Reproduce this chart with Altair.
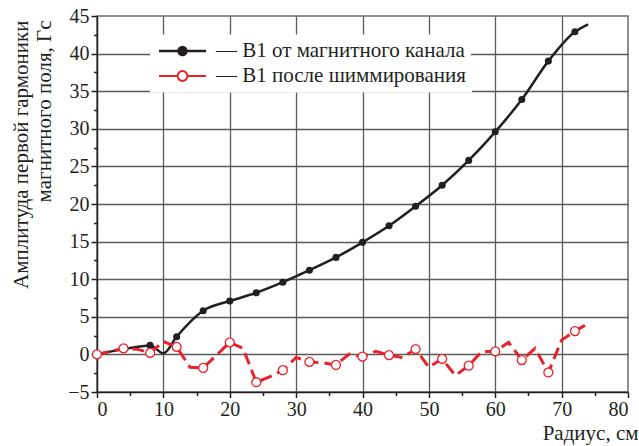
import altair as alt
import pandas as pd

# Radial profile of the first harmonic of the magnetic field
channel_r = [0, 4, 8, 10, 12, 16, 20, 24, 28, 32, 36, 40, 44, 48, 52, 56, 60, 64, 68, 72, 74]
channel_b1 = [0.0, 0.7, 1.2, 0.15, 2.35, 5.8, 7.1, 8.2, 9.6, 11.2, 12.9, 14.9, 17.1,
              19.7, 22.5, 25.8, 29.6, 33.9, 39.0, 42.9, 43.9]

shim_r = [0, 2, 4, 6, 8, 10, 12, 14, 16, 18, 20, 22, 24, 26, 28, 30, 32, 34, 36,
          38, 40, 42, 44, 46, 48, 50, 52, 54, 56, 58, 60, 62, 64, 66, 68, 70, 72, 74]
shim_b1 = [0.0, 0.4, 0.8, 0.7, 0.2, 1.7, 1.0, -1.7, -1.8, -0.1, 1.6, 0.8, -3.7, -3.0,
           -2.1, -0.4, -1.0, -1.1, -1.4, 0.05, -0.3, 0.4, -0.1, -0.4, 0.7, -1.7, -0.6,
           -2.8, -1.5, 0.4, 0.4, 1.6, -0.75, 0.8, -2.4, 1.9, 3.1, 4.1]

# radii at which measured points are marked
marker_r = [0, 4, 8, 12, 16, 20, 24, 28, 32, 36, 40, 44, 48, 52, 56, 60, 64, 68, 72]

name_channel = "— B1 от магнитного канала"
name_shim = "— B1 после шиммирования"

BLACK = "#231f20"
RED = "#e8212b"
FONT = "Liberation Serif"

df_channel = pd.DataFrame({
    "r": channel_r, "b1": channel_b1, "series": name_channel,
    "marker": [r in marker_r for r in channel_r],
})
df_shim = pd.DataFrame({
    "r": shim_r, "b1": shim_b1, "series": name_shim,
    "marker": [r in marker_r for r in shim_r],
})

x_axis = alt.Axis(
    values=[v * 5 for v in range(0, 17)],
    labelExpr="datum.value % 10 === 0 ? datum.label : ''",
    labelOverlap=False,
    tickSize={"condition": {"test": "datum.value % 10 !== 0", "value": 3.5}, "value": 5.5},
    gridOpacity={"condition": {"test": "datum.value % 10 === 0 && datum.value > 0 && datum.value < 80",
                               "value": 1}, "value": 0},
    labelPadding=2,
    titleAlign="right",
    titleAnchor="end",
    titleX=541,
    titleY=47,
    titleBaseline="alphabetic",
)
y_axis = alt.Axis(
    values=[v * 2.5 for v in range(-2, 19)],
    labelExpr="datum.value % 5 === 0 ? datum.label : ''",
    labelOverlap=False,
    tickSize={"condition": {"test": "datum.value % 5 !== 0", "value": 3.5}, "value": 6},
    gridOpacity={"condition": {"test": "datum.value % 5 === 0 && datum.value > -5 && datum.value < 45",
                               "value": 1}, "value": 0},
    labelPadding=2,
    titleAlign="right",
    titleAngle=270,
    titleBaseline="alphabetic",
    titleX=-70,
    titleY=4,
    titleLineHeight=23,
)

x = alt.X("r:Q", title="Радиус, см",
          scale=alt.Scale(domain=[0, 80], nice=False, zero=False), axis=x_axis)
y = alt.Y("b1:Q", title=["Амплитуда первой гармоники", "магнитного поля, Гс"],
          scale=alt.Scale(domain=[-5, 45], nice=False, zero=False), axis=y_axis)

# legend symbols: a line segment with the point marker in its middle
path_black = "M-2.94,0H2.94M0.5,0A0.5,0.5 0 1,1 -0.5,0A0.5,0.5 0 1,1 0.5,0Z"
path_red = ("M-2.94,0H-0.62M0.62,0H2.94"
            "M0.62,0A0.62,0.62 0 1,1 -0.62,0A0.62,0.62 0 1,1 0.62,0Z")

legend_common = dict(
    title=None, orient="none", legendX=53, symbolSize=256,
    symbolOffset=16, labelOffset=23, labelFont=FONT, labelFontSize=21,
    labelColor=BLACK, labelLimit=500, fillColor="white", padding=6,
)

black_line = alt.Chart(df_channel).mark_line(
    interpolate="monotone", color=BLACK, strokeWidth=2.5
).encode(x=x, y=y)

black_pts = alt.Chart(df_channel).transform_filter("datum.marker").mark_point(
    filled=True, shape="circle", size=50, opacity=1
).encode(
    x=x, y=y,
    color=alt.Color("series:N", scale=alt.Scale(domain=[name_channel], range=[BLACK]),
                    legend=alt.Legend(legendY=18.5, symbolType=path_black,
                                      symbolStrokeWidth=2.5, symbolStrokeColor=BLACK,
                                      symbolFillColor=BLACK, **legend_common)),
)

red_line = alt.Chart(df_shim).mark_line(
    color=RED, strokeWidth=3, strokeDash=[12, 6]
).encode(x=x, y=y)

red_pts = alt.Chart(df_shim).transform_filter("datum.marker").mark_point(
    filled=True, fill="white", shape="circle", size=80, strokeWidth=1.3, opacity=1
).encode(
    x=x, y=y,
    stroke=alt.Stroke("series:N", scale=alt.Scale(domain=[name_shim], range=[RED]),
                      legend=alt.Legend(legendY=43.5, symbolType=path_red,
                                        symbolStrokeWidth=2, symbolStrokeColor=RED,
                                        symbolFillColor="white", **legend_common)),
)

chart = alt.layer(black_line, black_pts, red_line, red_pts).properties(
    width=531,
    height=376,
    autosize=alt.AutoSizeParams(type="none"),
    padding={"left": 97, "top": 16, "right": 11, "bottom": 54},
    background="white",
).configure_view(
    stroke="#6a6a6a", strokeWidth=1.5,
).configure_axis(
    labelFont=FONT, labelFontSize=20, labelColor=BLACK,
    titleFont=FONT, titleFontSize=21, titleColor=BLACK, titleFontWeight="normal",
    domainColor=BLACK, domainWidth=1.5, tickColor=BLACK, tickWidth=1.5,
    gridColor="#5a5a5a", gridWidth=1.3,
)

chart.save("out.html", embed_options={"renderer": "svg", "actions": False})
